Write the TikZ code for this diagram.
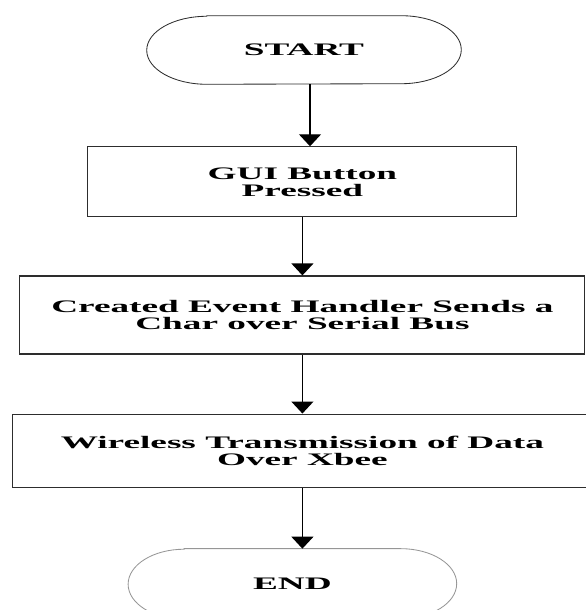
\documentclass[tikz,border=0pt]{standalone}
\usepackage{fontspec}
\setmainfont{Liberation Serif}[FakeStretch=2.12]
\usepackage{tikz}
\usetikzlibrary{arrows.meta, positioning}
\definecolor{mydark}{RGB}{45,45,45}
\definecolor{mygrey}{RGB}{150,150,150}
\tikzset{
  block/.style={rectangle, draw=mydark, align=center, inner sep=0pt,
    font=\bfseries\fontsize{12.5}{12}\selectfont, line width=0.8pt},
  term/.style={rectangle, draw=none, align=center, inner sep=0pt,
    font=\bfseries\fontsize{12.5}{12}\selectfont},
  termline/.style={line width=0.6pt},
  arrow/.style={-{Triangle[width=0.55cm, length=0.3cm]}, line width=0.9pt, color=black}
}

\begin{document}
\begin{tikzpicture}
  \useasboundingbox (0,0) rectangle (14.625,-15.25);

  \node[term, minimum width=7.85cm, minimum height=1.7cm] (start) at (7.6,-1.25) {START};
  \node[block, minimum width=10.725cm, minimum height=1.75cm, below=1.55cm of start, xshift=-0.04cm] (gui) {GUI Button\\Pressed};
  \node[block, minimum width=14.125cm, minimum height=1.95cm, below=1.45cm of gui] (send) {Created Event Handler Sends a\\Char over Serial Bus};
  \node[block, minimum width=14.5cm, minimum height=1.825cm, below=1.475cm of send] (xbee) {Wireless Transmission of Data\\Over Xbee};
  \node[term, minimum width=8.2cm, minimum height=1.75cm, below=1.525cm of xbee, xshift=-0.25cm] (stop) {END};

  % terminal outlines
  \draw[termline, draw=mydark] ([xshift=1.5cm]start.north west) -- ([xshift=-1.5cm]start.north east)
    arc[start angle=90, end angle=-90, x radius=1.5cm, y radius=0.85cm]
    -- ([xshift=1.5cm]start.south west)
    arc[start angle=270, end angle=90, x radius=1.5cm, y radius=0.85cm] -- cycle;
  \draw[termline, draw=mygrey] ([xshift=1.4cm]stop.north west) -- ([xshift=-1.4cm]stop.north east)
    arc[start angle=90, end angle=-90, x radius=1.4cm, y radius=0.875cm]
    -- ([xshift=1.4cm]stop.south west)
    arc[start angle=270, end angle=90, x radius=1.4cm, y radius=0.875cm] -- cycle;

  \draw[arrow] ([xshift=0.15cm]start.south) -- ([xshift=0.15cm]start.south |- gui.north);
  \draw[arrow] (gui.south) -- (gui.south |- send.north);
  \draw[arrow] (send.south) -- (send.south |- xbee.north);
  \draw[arrow] (xbee.south) -- (xbee.south |- stop.north);
\end{tikzpicture}
\end{document}
